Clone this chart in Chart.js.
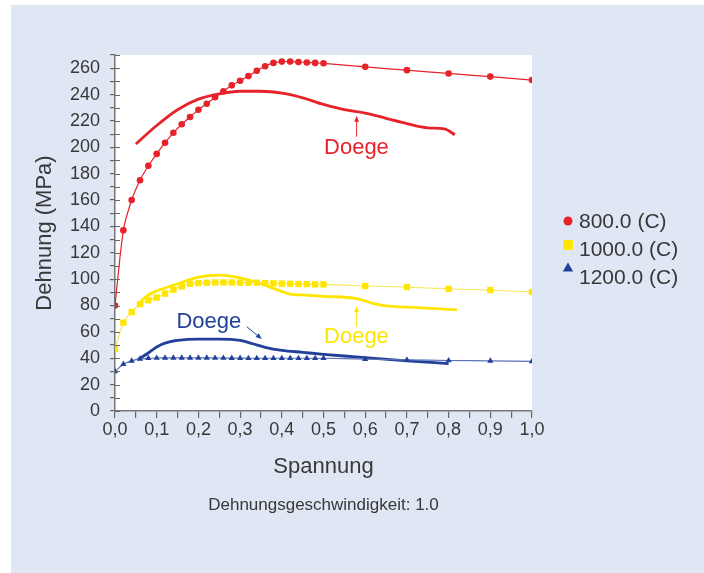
<!DOCTYPE html>
<html lang="de">
<head>
<meta charset="utf-8">
<title>Dehnung / Spannung</title>
<script src="https://cdn.jsdelivr.net/npm/chart.js@4.4.1/dist/chart.umd.min.js"></script>
<style>
  html, body { margin: 0; padding: 0; background: #fff; }
  #wrap  { position: relative; width: 704px; height: 573px; overflow: hidden; }
  #panel { position: absolute; left: 11px; top: 5px; right: 0; bottom: 0; background: #e0e7f4; }
  #chart { position: absolute; left: 0; top: 0; }
</style>
</head>
<body>
<div id="wrap">
  <div id="panel"></div>
  <canvas id="chart" width="704" height="573"></canvas>
</div>
<script>
'use strict';

/* ---------- Daten ---------- */

// Spannung der Messpunkte (gleich für alle drei Temperaturen)
const SPANNUNG_PUNKTE = [0, 0.02, 0.04, 0.06, 0.08, 0.10, 0.12, 0.14, 0.16, 0.18,
                         0.20, 0.22, 0.24, 0.26, 0.28, 0.30, 0.32, 0.34, 0.36, 0.38,
                         0.40, 0.42, 0.44, 0.46, 0.48, 0.50, 0.6, 0.7, 0.8, 0.9, 1.0];

const DEHNUNG_800  = [80, 137, 160, 175, 186, 195, 203.5, 211, 217.5, 223,
                      228.5, 233, 238, 242.5, 247, 250.5, 254, 258, 261.5, 264,
                      265, 265, 264.7, 264.3, 264, 263.7, 261, 258.5, 256, 253.6, 251];

const DEHNUNG_1000 = [47, 67, 75, 81, 84, 86, 89, 92, 94.5, 96.5,
                      97, 97.3, 97.5, 97.5, 97.5, 97.3, 97.3, 97.3, 97, 96.8,
                      96.6, 96.5, 96.3, 96.2, 96, 96, 94.8, 94, 92.6, 91.7, 90.3];

const DEHNUNG_1200 = [30, 35.5, 38, 39.5, 40, 40.2, 40.3, 40.3, 40.3, 40.3,
                      40.3, 40.3, 40.2, 40.2, 40.1, 40.1, 40, 40, 40, 40,
                      40, 40, 40, 40, 40, 40, 39.3, 38.8, 38.3, 38, 37.6];

// Doege-Modellkurven
const DOEGE_800_X  = [0.05, 0.1, 0.15, 0.2, 0.25, 0.3, 0.35, 0.4, 0.45, 0.5, 0.55, 0.6, 0.65, 0.7, 0.75, 0.79, 0.815];
const DOEGE_800_Y  = [202.5, 216.5, 228.5, 236.5, 240.5, 242.5, 242.5, 241, 237.5, 232.5, 228.5, 226, 222, 218, 214.8, 214, 209.5];

const DOEGE_1000_X = [0.055, 0.08, 0.1, 0.15, 0.2, 0.25, 0.3, 0.35, 0.38, 0.42, 0.45, 0.5, 0.58, 0.62, 0.65, 0.7, 0.82];
const DOEGE_1000_Y = [81, 88, 91, 96.5, 101.5, 103, 101, 96.5, 93, 88.7, 88, 87, 85.3, 81.5, 79.8, 78.8, 76.7];

const DOEGE_1200_X = [0.055, 0.08, 0.1, 0.12, 0.15, 0.2, 0.25, 0.3, 0.33, 0.36, 0.4, 0.45, 0.5, 0.55, 0.6, 0.7, 0.8];
const DOEGE_1200_Y = [39, 44, 48.5, 51.5, 53.5, 54.5, 54.5, 53.5, 51, 48.3, 46, 44.5, 43, 41.7, 40.5, 38, 36];

const SERIEN_LABELS = ['800.0 (C)', '1000.0 (C)', '1200.0 (C)'];

/* ---------- Stil ---------- */

const ROT  = '#e8222a';
const GELB = '#ffe600';
const BLAU = '#22409a';
const TEXT = '#383838';
const FONT = '"Liberation Sans", Arial, Helvetica, sans-serif';

Chart.defaults.font.family = FONT;
Chart.defaults.color = TEXT;

function punkte(xs, ys) {
  return xs.map((x, i) => ({ x: x, y: ys[i] }));
}

function messreihe(label, ys, farbe, linie, stil, radius) {
  return {
    label: label,
    data: punkte(SPANNUNG_PUNKTE, ys),
    showLine: true,
    borderColor: linie,
    borderWidth: 1.2,
    backgroundColor: farbe,
    pointBackgroundColor: farbe,
    pointBorderWidth: 0,
    pointStyle: stil,
    pointRadius: radius,
    tension: 0.25,
  };
}

function doege(xs, ys, farbe) {
  return {
    label: 'Doege',
    data: punkte(xs, ys),
    showLine: true,
    borderColor: farbe,
    borderWidth: 2.8,
    pointRadius: 0,
    cubicInterpolationMode: 'monotone',
  };
}

/* ---------- Plugins ---------- */

// weisser Plotbereich
const plotHintergrund = {
  id: 'plotHintergrund',
  beforeDraw(chart) {
    const a = chart.chartArea;
    chart.ctx.save();
    chart.ctx.fillStyle = '#fff';
    chart.ctx.fillRect(a.left, a.top, a.right - a.left, a.bottom - a.top);
    chart.ctx.restore();
  }
};

// y-Ticks kreuzen die Achse (innere Hälfte)
const innereTicks = {
  id: 'innereTicks',
  afterDraw(chart) {
    const ctx = chart.ctx;
    const y = chart.scales.y;
    const left = chart.chartArea.left;
    ctx.save();
    ctx.strokeStyle = '#666';
    ctx.lineWidth = 1.2;
    ctx.beginPath();
    y.ticks.forEach(t => {
      const py = Math.round(y.getPixelForValue(t.value)) + 0.5;
      ctx.moveTo(left, py);
      ctx.lineTo(left + 5, py);
    });
    ctx.stroke();
    ctx.restore();
  }
};

// Beschriftung "Doege" mit Pfeil
const DOEGE_HINWEISE = [
  { farbe: ROT,  x: 0.579, y: 194.6, von: [0.5795, 208],  nach: [0.5795, 224] },
  { farbe: GELB, x: 0.579, y: 51.3,  von: [0.5795, 63.9], nach: [0.5795, 79.6] },
  { farbe: BLAU, x: 0.225, y: 63.2,  von: [0.316, 63.9],  nach: [0.352, 54.6] },
];

const doegeHinweise = {
  id: 'doegeHinweise',
  afterDatasetsDraw(chart) {
    const ctx = chart.ctx;
    const sx = chart.scales.x, sy = chart.scales.y;
    ctx.save();
    ctx.font = '22px ' + FONT;
    ctx.textAlign = 'center';
    ctx.textBaseline = 'alphabetic';
    DOEGE_HINWEISE.forEach(h => {
      ctx.fillStyle = h.farbe;
      ctx.strokeStyle = h.farbe;
      ctx.fillText('Doege', sx.getPixelForValue(h.x), sy.getPixelForValue(h.y));

      const x1 = sx.getPixelForValue(h.von[0]),  y1 = sy.getPixelForValue(h.von[1]);
      const x2 = sx.getPixelForValue(h.nach[0]), y2 = sy.getPixelForValue(h.nach[1]);
      const w = Math.atan2(y2 - y1, x2 - x1);
      ctx.lineWidth = 1;
      ctx.beginPath();
      ctx.moveTo(x1, y1);
      ctx.lineTo(x2 - Math.cos(w) * 4, y2 - Math.sin(w) * 4);
      ctx.stroke();
      ctx.beginPath();
      ctx.moveTo(x2, y2);
      ctx.lineTo(x2 - Math.cos(w) * 6 + Math.sin(w) * 2.4, y2 - Math.sin(w) * 6 - Math.cos(w) * 2.4);
      ctx.lineTo(x2 - Math.cos(w) * 6 - Math.sin(w) * 2.4, y2 - Math.sin(w) * 6 + Math.cos(w) * 2.4);
      ctx.closePath();
      ctx.fill();
    });
    ctx.restore();
  }
};

// Legende rechts neben dem Plot
const legende = {
  id: 'legende',
  afterDraw(chart) {
    const ctx = chart.ctx;
    const radien = [4.5, 7, 6];
    const versatz = [-1, -5, -9.5];
    ctx.save();
    ctx.font = '21px ' + FONT;
    ctx.textBaseline = 'middle';
    ctx.textAlign = 'left';
    SERIEN_LABELS.forEach((label, i) => {
      const ds = chart.data.datasets[i];
      const y = 222 + i * 28;
      ctx.fillStyle = ds.backgroundColor;
      Chart.helpers.drawPoint(ctx, {
        pointStyle: ds.pointStyle, radius: radien[i], rotation: 0, borderWidth: 0
      }, 568, y + versatz[i]);
      ctx.fillStyle = TEXT;
      ctx.fillText(label, 579, y);
    });
    ctx.restore();
  }
};

/* ---------- Diagramm ---------- */

new Chart(document.getElementById('chart').getContext('2d'), {
  type: 'scatter',
  data: {
    datasets: [
      messreihe(SERIEN_LABELS[0], DEHNUNG_800,  ROT,  ROT,       'circle',   3.3),
      messreihe(SERIEN_LABELS[1], DEHNUNG_1000, GELB, '#f7e862', 'rect',     4.5),
      messreihe(SERIEN_LABELS[2], DEHNUNG_1200, BLAU, '#5a72b6', 'triangle', 3.6),
      doege(DOEGE_800_X,  DOEGE_800_Y,  ROT),
      doege(DOEGE_1000_X, DOEGE_1000_Y, GELB),
      doege(DOEGE_1200_X, DOEGE_1200_Y, BLAU),
    ]
  },
  options: {
    responsive: false,
    animation: false,
    events: [],
    layout: { padding: { left: 0, right: 172, top: 55, bottom: 0 } },
    plugins: {
      legend:  { display: false },
      tooltip: { enabled: false },
      subtitle: {
        display: true,
        text: 'Dehnungsgeschwindigkeit: 1.0',
        position: 'bottom',
        fullSize: false,
        color: TEXT,
        font: { size: 17, weight: 'normal' },
        padding: { top: 0, bottom: 57 }
      }
    },
    scales: {
      x: {
        type: 'linear',
        min: 0,
        max: 1,
        afterFit(s) { s.height = 84.6; },
        border: { display: true, color: '#777', width: 1.5 },
        grid: { drawOnChartArea: false, drawTicks: true, tickLength: 7, color: '#666', lineWidth: 1.2 },
        ticks: {
          stepSize: 0.05,
          autoSkip: false,
          maxRotation: 0,
          padding: 1,
          color: TEXT,
          font: { size: 18 },
          callback: (v) => {
            const h = Math.round(v * 100);
            return h % 10 === 0 ? (h / 100).toFixed(1).replace('.', ',') : '';
          }
        },
        title: {
          display: true, text: 'Spannung', color: TEXT,
          font: { size: 22 }, padding: { top: 0, bottom: 15.4 }
        }
      },
      y: {
        type: 'linear',
        min: 0,
        max: 270,
        afterFit(s) { s.width = 115; },
        border: { display: true, color: '#777', width: 1.5 },
        grid: { drawOnChartArea: false, drawTicks: true, tickLength: 5, color: '#666', lineWidth: 1.2 },
        ticks: {
          stepSize: 10,
          autoSkip: false,
          padding: 10,
          color: TEXT,
          font: { size: 18 },
          callback: (v) => (Math.round(v) % 20 === 0 ? String(Math.round(v)) : '')
        },
        title: {
          display: true, text: 'Dehnung (MPa)', color: TEXT,
          font: { size: 22 }, padding: { top: 32, bottom: 0 }
        }
      }
    }
  },
  plugins: [plotHintergrund, doegeHinweise, innereTicks, legende]
});
</script>
</body>
</html>
